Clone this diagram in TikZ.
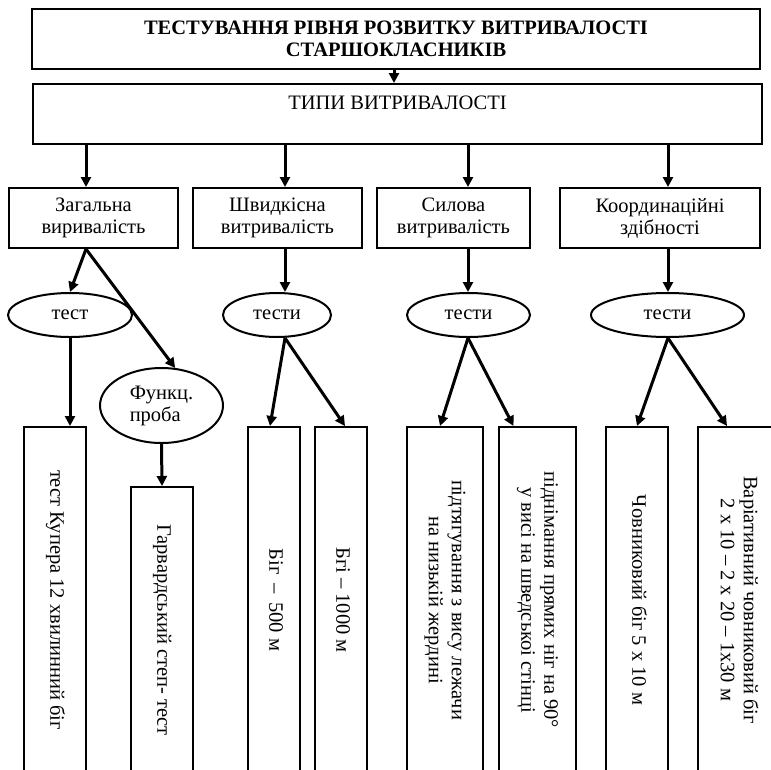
\documentclass[tikz,border=0pt]{standalone}
\usepackage{fontspec}
\setmainfont{Liberation Serif}
\usepackage{graphicx}
\usetikzlibrary{positioning, arrows.meta, shapes.geometric}

% text turned to read downwards, for the tall boxes
\newcommand{\vtext}[1]{\rotatebox{-90}{\fontsize{20.5}{23}\selectfont\begin{tabular}{@{}c@{}}#1\end{tabular}}}

\begin{document}
\begin{tikzpicture}[
    % GLOBAL CFG
    x=1pt, y=-1pt,
    font=\fontsize{20.5}{22}\selectfont,
    >={Triangle[length=10pt, width=10pt]},
    % Styles
    block/.style={% For the rectangular boxes
        rectangle,
        draw,
        line width=2pt,
        align=center,
        inner sep=0pt,
        },
    test/.style={% For the ellipses
        ellipse,
        draw,
        line width=2pt,
        inner sep=0pt,
        },
    tall/.style={% For the long boxes at the bottom
        block,
        minimum height=346pt,
        },
    heading/.style={% bold title text
        font=\fontsize{20.5}{22}\selectfont\bfseries,
        },
    ArrowC1/.style={% Thick arrows
        ->,
        line width=3pt,
        },
    ]

    \useasboundingbox (0,0) rectangle (771,769);

    % Top boxes
    \node[block, heading, minimum width=728pt, minimum height=60pt] (title) at (396,39)
        {ТЕСТУВАННЯ РІВНЯ РОЗВИТКУ ВИТРИВАЛОСТІ\\СТАРШОКЛАСНИКІВ};
    \node[block, minimum width=729pt, minimum height=60pt] (types) at (397.5,114)
        {ТИПИ ВИТРИВАЛОСТІ\\~};

    % Types of endurance
    \node[block, minimum width=169pt, minimum height=60pt] (zag) at (93.5,218) {Загальна\\виривалість};
    \node[block, minimum width=169pt, minimum height=60pt] (shv) at (277.5,218) {Швидкісна\\витривалість};
    \node[block, minimum width=153pt, minimum height=60pt] (sil) at (453.5,218) {Силова\\витривалість};
    \node[block, minimum width=200pt, minimum height=60pt] (koord) at (660,218) {Координаційні\\здібності};

    % columns of the arrows
    \coordinate (c1) at (86,0);
    \coordinate (c2) at (285,0);
    \coordinate (c3) at (468,0);
    \coordinate (c4) at (668,0);

    % Tests
    \node[test, minimum width=124pt, minimum height=44pt] (ell1) at (70,315) {тест};
    \node[test, minimum width=123pt, minimum height=75pt, align=left] (funk) at (161.5,405.5) {Функц.\\проба};
    \node[test, minimum width=108pt, minimum height=44pt] (ell2) at (277,315) {тести};
    \node[test, minimum width=123pt, minimum height=44pt] (ell3) at (468.5,315) {тести};
    \node[test, minimum width=153pt, minimum height=44pt] (ell4) at (667.5,315) {тести};

    % Tall boxes
    \node[tall, minimum width=62pt] (kup) at (55,600) {\vtext{тест Купера 12 хвилинний біг}};
    \node[tall, minimum width=62pt, minimum height=286pt] (garv) at (162,630) {\vtext{Гарвардський степ- тест}};
    \node[tall, minimum width=52pt] (big5) at (274,600) {\vtext{Біг \,–\, 500 м}};
    \node[tall, minimum width=52pt] (big10) at (341,600) {\vtext{Бгі – 1000 м}};
    \node[tall, minimum width=76pt] (pidt) at (445,600) {\vtext{підтягування з вису лежачи\\на низькій жердині}};
    \node[tall, minimum width=77pt] (pidn) at (537.5,600) {\vtext{піднімання прямих ніг на 90°\\у висі на шведськоі стінці}};
    \node[tall, minimum width=62pt] (chov) at (637,600) {\vtext{Човниковий біг 5 х 10 м}};
    \node[tall, minimum width=78pt] (var) at (737,600) {\vtext{Варіативний човниковий біг\\2 х 10 – 2 х 20 – 1х30 м}};

    % Arrows
    \draw[ArrowC1] (title.south -| 394,0) -- (types.north -| 394,0);
    \draw[ArrowC1] (types.south -| c1) -- (zag.north -| c1);
    \draw[ArrowC1] (types.south -| c2) -- (shv.north -| c2);
    \draw[ArrowC1] (types.south -| c3) -- (sil.north -| c3);
    \draw[ArrowC1] (types.south -| c4) -- (koord.north -| c4);

    \draw[ArrowC1] (zag.south -| c1) -- (ell1.north);
    \draw[ArrowC1] (zag.south -| c1) -- (funk.70);
    \draw[ArrowC1] (shv.south -| c2) -- (ell2.north -| c2);
    \draw[ArrowC1] (sil.south -| c3) -- (ell3.north -| c3);
    \draw[ArrowC1] (koord.south -| c4) -- (ell4.north -| c4);

    \draw[ArrowC1] (ell1.south) -- (kup.north -| ell1.south);
    \draw[ArrowC1] (funk.south) -- (garv.north);
    \draw[ArrowC1] (ell2.south -| c2) -- ([xshift=-4pt]big5.north);
    \draw[ArrowC1] (ell2.south -| c2) -- ([xshift=4pt]big10.north);
    \draw[ArrowC1] (ell3.south -| c3) -- ([xshift=-5pt]pidt.north);
    \draw[ArrowC1] (ell3.south -| c3) -- ([xshift=-24pt]pidn.north);
    \draw[ArrowC1] (ell4.south -| c4) -- (chov.north);
    \draw[ArrowC1] (ell4.south -| c4) -- ([xshift=-10pt]var.north);

\end{tikzpicture}
\end{document}
